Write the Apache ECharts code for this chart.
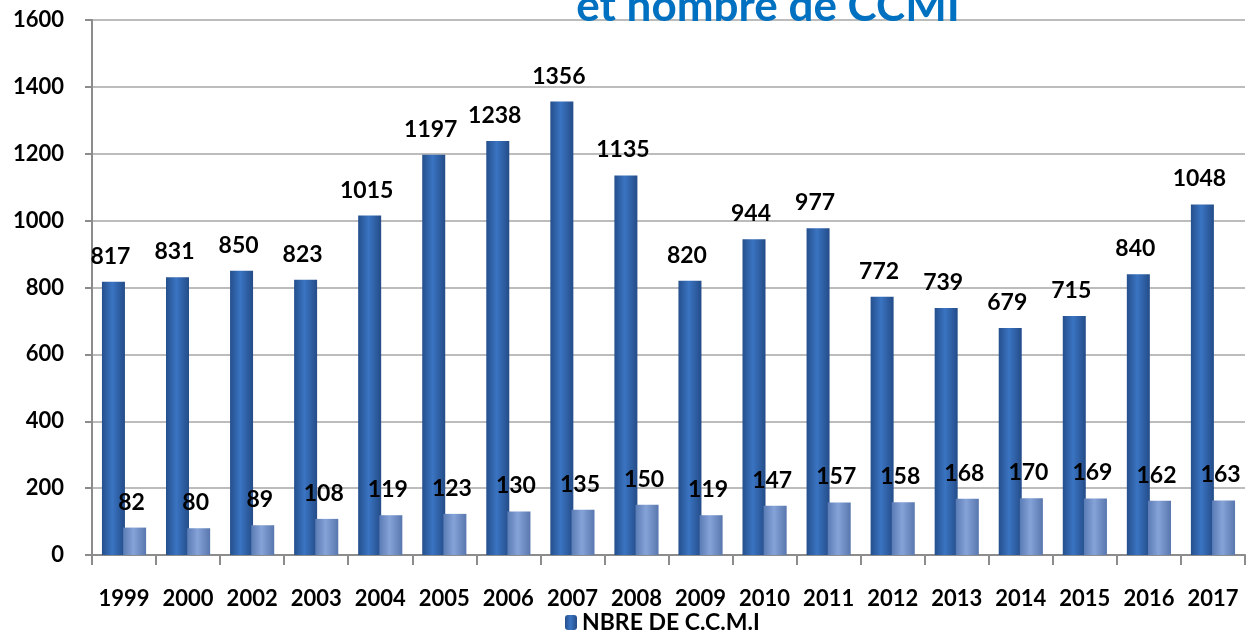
<!DOCTYPE html>
<html><head><meta charset="utf-8">
<script src="https://cdn.jsdelivr.net/npm/echarts@6/dist/echarts.min.js"></script>
<style>html,body{margin:0;padding:0;background:#fff}#c{width:1250px;height:634px}</style>
</head><body><div id="c"></div>
<script>
const years = ['1999','2000','2002','2003','2004','2005','2006','2007','2008','2009','2010','2011','2012','2013','2014','2015','2016','2017'];
const nbreCCMI = [817,831,850,823,1015,1197,1238,1356,1135,820,944,977,772,739,679,715,840,1048];
const secondSeries = [82,80,89,108,119,123,130,135,150,119,147,157,158,168,170,169,162,163];
const yTicks = {min:0, max:1600, interval:200};
const titleText = 'et nombre de CCMI';
const legendName = 'NBRE DE C.C.M.I';

const chart = echarts.init(document.getElementById('c'));
const font = 'Lato, "Open Sans", sans-serif';
const bigGrad = new echarts.graphic.LinearGradient(0,0,1,0,[
  {offset:0,color:'#254f8c'},{offset:0.45,color:'#3a74c2'},{offset:1,color:'#244c88'}]);
const smallGrad = new echarts.graphic.LinearGradient(0,0,1,0,[
  {offset:0,color:'#5a7bb5'},{offset:0.45,color:'#86a3d8'},{offset:1,color:'#5877ae'}]);
const lbl = {show:true,position:'top',distance:14,offset:[-3,0],fontSize:23,fontWeight:'bold',color:'#000',fontFamily:font};
chart.setOption({
  animation:false,
  title:{text:titleText,left:763,textAlign:'center',top:-20,
    textStyle:{color:'#0070C0',fontSize:44,fontWeight:'bold',fontFamily:font,lineHeight:44}},
  legend:{data:[legendName],bottom:0,padding:0,left:565,itemWidth:12,itemHeight:15,itemGap:6,
    textStyle:{fontSize:23,fontWeight:'bold',color:'#000',fontFamily:font,lineHeight:23}},
  grid:{left:92,right:5,top:20,bottom:79},
  xAxis:{type:'category',data:years,
    axisLine:{lineStyle:{color:'#8c8c8c',width:2}},
    axisTick:{show:true,interval:0,length:10,lineStyle:{color:'#8c8c8c',width:2}},
    axisLabel:{interval:0,margin:33,fontSize:22,fontWeight:'bold',color:'#000',fontFamily:font}},
  yAxis:{type:'value',min:yTicks.min,max:yTicks.max,interval:yTicks.interval,
    axisLine:{show:true,lineStyle:{color:'#8c8c8c',width:2}},
    axisTick:{show:true,length:7,lineStyle:{color:'#8c8c8c',width:2}},
    splitLine:{lineStyle:{color:'#a6a6a6',width:1.5}},
    axisLabel:{margin:28,fontSize:22,fontWeight:'bold',color:'#000',fontFamily:font,formatter:v=>String(v)}},
  series:[
    {name:legendName,type:'bar',data:nbreCCMI,barWidth:23,barGap:'-8%',
      itemStyle:{color:bigGrad},label:lbl},
    {name:'CCMI',type:'bar',data:secondSeries,barWidth:23,
      itemStyle:{color:smallGrad},label:lbl}
  ]
});
</script></body></html>
